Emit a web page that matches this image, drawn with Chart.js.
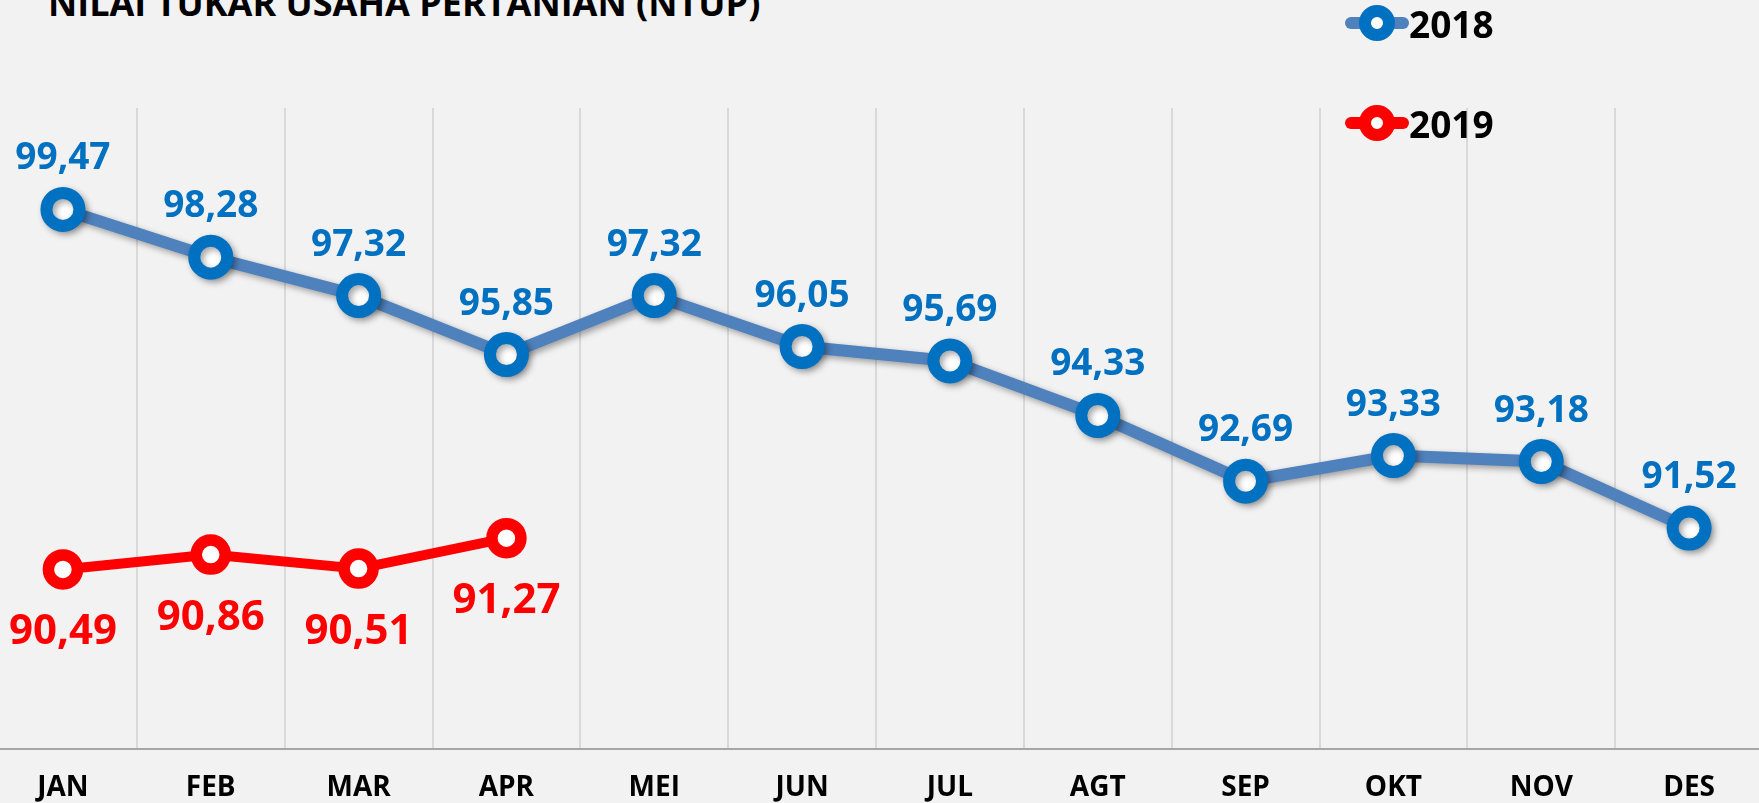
<!DOCTYPE html>
<html>
<head>
<meta charset="utf-8">
<title>Nilai Tukar Usaha Pertanian (NTUP)</title>
<script src="https://cdn.jsdelivr.net/npm/chart.js@4.4.0/dist/chart.umd.min.js"></script>
<style>
    html, body {
        margin: 0;
        padding: 0;
        width: 1759px;
        height: 803px;
        overflow: hidden;
        background: #f2f2f2;
        font-family: 'Open Sans', sans-serif;
    }
    #wrap {
        position: absolute;
        left: -11px;
        top: 0;
        width: 1774px;
        height: 827px;
    }
    #title {
        position: absolute;
        left: 48px;
        top: -15px;
        font-size: 36px;
        line-height: 1;
        font-weight: 700;
        color: #000;
        white-space: nowrap;
    }
    .legend-item {
        position: absolute;
        left: 1345px;
        height: 40px;
        display: flex;
        align-items: center;
    }
    .legend-mark {
        position: relative;
        width: 64px;
        height: 40px;
    }
    .legend-line {
        position: absolute;
        left: 0;
        right: 0;
        top: 14px;
        height: 12px;
        border-radius: 6px;
    }
    .legend-dot {
        position: absolute;
        left: 13.5px;
        top: 1.5px;
        width: 12px;
        height: 12px;
        border-radius: 50%;
        background: #fff;
        border: 12.5px solid;
    }
    .legend-text {
        font-size: 37px;
        line-height: 1;
        font-weight: 700;
        color: #000;
    }
</style>
</head>
<body>
<div id="title">NILAI TUKAR USAHA PERTANIAN (NTUP)</div>
<div id="wrap"><canvas id="ntupChart"></canvas></div>
<div id="legend"></div>

<script>
// Data NTUP per bulan
const months = ['JAN', 'FEB', 'MAR', 'APR', 'MEI', 'JUN', 'JUL', 'AGT', 'SEP', 'OKT', 'NOV', 'DES'];
const ntup2018 = [99.47, 98.28, 97.32, 95.85, 97.32, 96.05, 95.69, 94.33, 92.69, 93.33, 93.18, 91.52];
const ntup2019 = [90.49, 90.86, 90.51, 91.27];
const yMin = 86;
const yMax = 102;

// Label angka di atas / bawah titik
const valueLabels = {
    id: 'valueLabels',
    afterDatasetsDraw(chart) {
        const ctx = chart.ctx;
        chart.data.datasets.forEach(function(ds, i) {
            const meta = chart.getDatasetMeta(i);
            if (meta.hidden) return;
            ctx.save();
            ctx.font = 'bold ' + ds.labelSize + 'px "Open Sans"';
            ctx.fillStyle = ds.labelColor;
            ctx.textAlign = 'center';
            ctx.textBaseline = 'alphabetic';
            meta.data.forEach(function(pt, j) {
                const v = ds.data[j];
                if (v == null) return;
                ctx.fillText(v.toFixed(2).replace('.', ','), pt.x, pt.y + ds.labelDy);
            });
            ctx.restore();
        });
    }
};

// Bayangan untuk garis 2018
const lineShadow = {
    id: 'lineShadow',
    beforeDatasetDraw(chart, args) {
        if (!chart.data.datasets[args.index].shadow) return;
        const ctx = chart.ctx;
        ctx.save();
        ctx.shadowColor = 'rgba(0, 0, 0, 0.35)';
        ctx.shadowBlur = 6;
        ctx.shadowOffsetX = 3;
        ctx.shadowOffsetY = 3;
    },
    afterDatasetDraw(chart, args) {
        if (chart.data.datasets[args.index].shadow) chart.ctx.restore();
    }
};

Chart.defaults.font.family = "'Open Sans', sans-serif";

const ctx = document.getElementById('ntupChart').getContext('2d');
const ntupChart = new Chart(ctx, {
    type: 'line',
    data: {
        labels: months,
        datasets: [{
            label: '2018',
            data: ntup2018,
            borderColor: '#4f81bd',
            borderWidth: 12,
            borderCapStyle: 'round',
            borderJoinStyle: 'round',
            pointRadius: 16.5,
            pointBorderWidth: 12,
            pointBackgroundColor: '#ffffff',
            pointBorderColor: '#0070c0',
            tension: 0,
            fill: false,
            clip: false,
            shadow: true,
            labelColor: '#0070c0',
            labelSize: 37,
            labelDy: -40
        }, {
            label: '2019',
            data: ntup2019,
            borderColor: '#ff0000',
            borderWidth: 10,
            borderCapStyle: 'round',
            borderJoinStyle: 'round',
            pointRadius: 14.5,
            pointBorderWidth: 11.5,
            pointBackgroundColor: '#ffffff',
            pointBorderColor: '#ff0000',
            tension: 0,
            fill: false,
            clip: false,
            shadow: false,
            labelColor: '#ff0000',
            labelSize: 42,
            labelDy: 75
        }]
    },
    options: {
        responsive: true,
        maintainAspectRatio: false,
        animation: false,
        layout: {
            autoPadding: false,
            padding: {
                left: 0,
                right: 0,
                top: 108,
                bottom: 0
            }
        },
        scales: {
            x: {
                offset: true,
                grid: {
                    offset: true,
                    color: '#d9d9d9',
                    lineWidth: 2,
                    drawTicks: false
                },
                border: {
                    color: '#a6a6a6',
                    width: 2
                },
                ticks: {
                    color: '#000000',
                    padding: 22,
                    font: {
                        size: 28,
                        weight: 'bold'
                    }
                }
            },
            y: {
                display: false,
                min: yMin,
                max: yMax
            }
        },
        plugins: {
            legend: {
                display: false
            },
            tooltip: {
                enabled: false
            }
        }
    },
    plugins: [lineShadow, valueLabels]
});

// Legenda manual di kanan atas
const legendBox = document.getElementById('legend');
const legendTops = [3, 103];
ntupChart.data.datasets.forEach(function(ds, i) {
    const item = document.createElement('div');
    item.className = 'legend-item';
    item.style.top = legendTops[i] + 'px';
    item.innerHTML =
        '<div class="legend-mark">' +
            '<div class="legend-line" style="background:' + ds.borderColor + '"></div>' +
            '<div class="legend-dot" style="border-color:' + ds.pointBorderColor + '"></div>' +
        '</div>' +
        '<div class="legend-text">' + ds.label + '</div>';
    legendBox.appendChild(item);
});
</script>
</body>
</html>
